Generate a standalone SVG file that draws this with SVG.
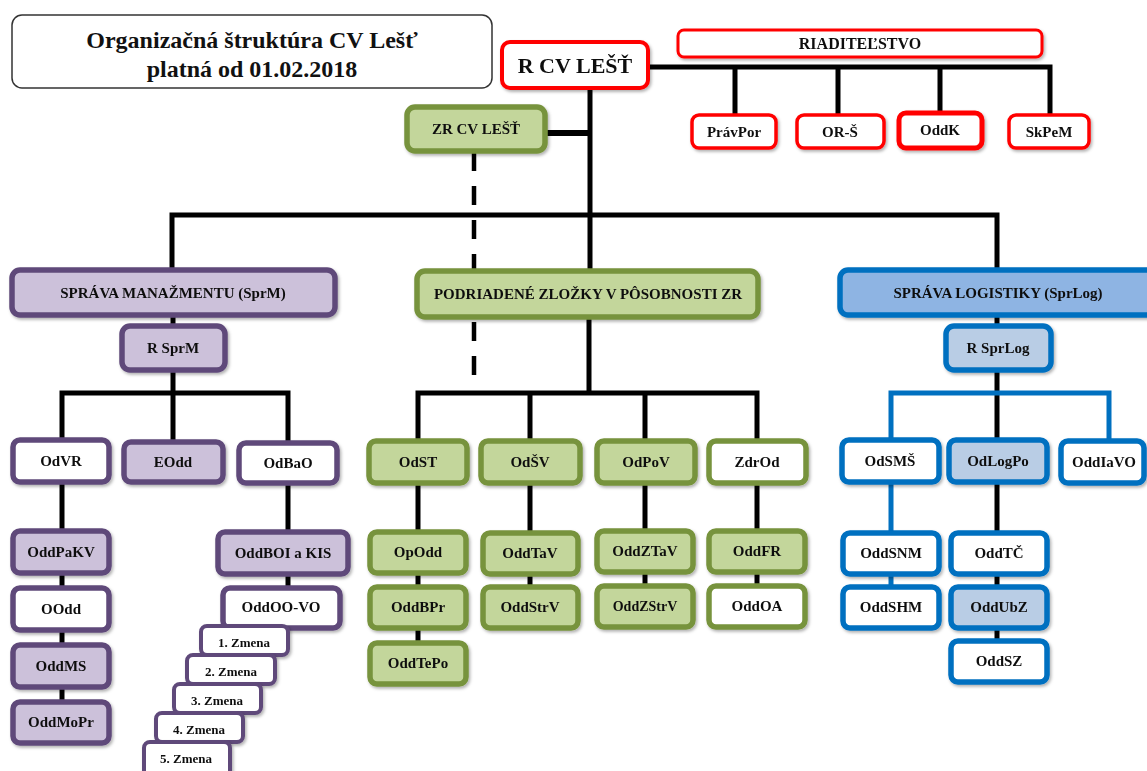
<svg xmlns="http://www.w3.org/2000/svg" width="1147" height="771" viewBox="0 0 1147 771">
<defs>
<filter id="sh" x="-10%" y="-20%" width="130%" height="150%">
<feDropShadow dx="1.5" dy="2" stdDeviation="1.5" flood-color="#000" flood-opacity="0.3"/>
</filter>
<style>
text{font-family:"Liberation Serif","Times New Roman",serif;font-weight:bold;fill:#111;text-anchor:middle}
.t15{font-size:15px}
.t14{font-size:14px}
.t13{font-size:13px}
.red rect{fill:#fff;stroke:#ff0000;stroke-width:3.5}
.grn rect{fill:#c3d69b;stroke:#77933c;stroke-width:5.5}
.grnw rect{fill:#fff;stroke:#77933c;stroke-width:5.5}
.pur rect{fill:#ccc1da;stroke:#5f497a;stroke-width:5.5}
.purw rect{fill:#fff;stroke:#5f497a;stroke-width:5.5}
.zm rect{fill:#fff;stroke:#5f497a;stroke-width:4}
.blu rect{fill:#8eb4e3;stroke:#0070c0;stroke-width:5.5}
.blul rect{fill:#b9cde5;stroke:#0070c0;stroke-width:5.5}
.bluw rect{fill:#fff;stroke:#0070c0;stroke-width:5.5}
.c{fill:none;stroke:#000;stroke-width:5}
.cb{fill:none;stroke:#0070c0;stroke-width:5}
.d{fill:none;stroke:#000;stroke-width:4.5;stroke-dasharray:19 15}
</style>
</defs>
<rect width="1147" height="771" fill="#fff"/>

<g id="connectors">
<path class="c" d="M648,67 H1050 V115 M735,67 V115 M838,67 V115 M940,67 V113"/>
<path class="c" d="M590,88 V215"/>
<path class="c" d="M545,133 H590" style="stroke-width:6"/>
<path class="c" d="M172,270 V215 H997 V270 M590,215 V272"/>
<path class="d" d="M474,152 V378"/>
<path class="c" d="M173,315 V442 M62,440 V393 H288 V443"/>
<path class="c" d="M62,482 V702 M288,483 V589"/>
<path class="c" d="M589,317 V393 M418,441 V393 H757 V441 M530,393 V441 M645,393 V441"/>
<path class="c" d="M418,483 V643 M530,483 V587 M645,483 V586 M757,483 V586"/>
<path class="c" d="M997,315 V641"/>
<path class="cb" d="M891,440 V393 H1109 V441 M891,482 V587"/>
</g>

<g id="title">
<rect x="12" y="15" width="480" height="73" rx="10" fill="#fff" stroke="#333" stroke-width="1.5"/>
<text x="252" y="48" style="font-size:24px">Organizačná štruktúra CV Lešť</text>
<text x="252" y="77" style="font-size:24px">platná od 01.02.2018</text>
</g>

<g id="rcv" class="red" filter="url(#sh)"><rect x="502" y="42" width="146" height="46" rx="8" style="stroke-width:4"/><text x="575" y="73" style="font-size:22px">R CV LEŠŤ</text></g>
<g id="riaditelstvo" class="red" filter="url(#sh)"><rect x="678" y="30" width="364" height="27" rx="6" style="stroke-width:3"/><text x="860" y="49" style="font-size:16px">RIADITEĽSTVO</text></g>
<g id="pravpor" class="red" filter="url(#sh)"><rect x="692" y="115" width="84" height="33" rx="7"/><text class="t15" x="734" y="137">PrávPor</text></g>
<g id="ors" class="red" filter="url(#sh)"><rect x="797" y="115" width="87" height="33" rx="7"/><text class="t15" x="840" y="137">OR-Š</text></g>
<g id="oddk" class="red" filter="url(#sh)"><rect x="899" y="113" width="83" height="35" rx="7" style="stroke-width:5"/><text class="t15" x="940" y="135">OddK</text></g>
<g id="skpem" class="red" filter="url(#sh)"><rect x="1009" y="115" width="80" height="33" rx="7"/><text class="t15" x="1049" y="137">SkPeM</text></g>

<g id="zr" class="grn" filter="url(#sh)"><rect x="407" y="107" width="138" height="44" rx="8"/><text class="t15" x="476" y="134">ZR CV LEŠŤ</text></g>

<g id="sprm" class="pur" filter="url(#sh)"><rect x="12" y="270" width="323" height="45" rx="8"/><text class="t15" x="173" y="298">SPRÁVA MANAŽMENTU (SprM)</text></g>
<g id="podr" class="grn" filter="url(#sh)"><rect x="417" y="271" width="341" height="46" rx="8"/><text class="t15" x="588" y="299">PODRIADENÉ ZLOŽKY V PÔSOBNOSTI ZR</text></g>
<g id="sprlog" class="blu" filter="url(#sh)"><rect x="840" y="270" width="320" height="45" rx="8"/><text class="t15" x="998" y="298">SPRÁVA LOGISTIKY (SprLog)</text></g>

<g id="rsprm" class="pur" filter="url(#sh)"><rect x="122" y="326" width="103" height="44" rx="8"/><text class="t15" x="173" y="353">R SprM</text></g>
<g id="rsprlog" class="blul" filter="url(#sh)"><rect x="946" y="326" width="105" height="44" rx="8"/><text class="t15" x="998" y="353">R SprLog</text></g>

<g id="odvr" class="purw" filter="url(#sh)"><rect x="13" y="440" width="96" height="42" rx="7"/><text class="t15" x="61" y="466">OdVR</text></g>
<g id="eodd" class="pur" filter="url(#sh)"><rect x="124" y="442" width="99" height="40" rx="7"/><text class="t15" x="173" y="467">EOdd</text></g>
<g id="odbao" class="purw" filter="url(#sh)"><rect x="239" y="443" width="98" height="40" rx="7"/><text class="t15" x="288" y="468">OdBaO</text></g>

<g id="oddpakv" class="pur" filter="url(#sh)"><rect x="13" y="531" width="96" height="42" rx="7"/><text class="t15" x="61" y="557">OddPaKV</text></g>
<g id="oodd" class="purw" filter="url(#sh)"><rect x="13" y="588" width="96" height="42" rx="7"/><text class="t15" x="61" y="614">OOdd</text></g>
<g id="oddms" class="pur" filter="url(#sh)"><rect x="13" y="645" width="96" height="42" rx="7"/><text class="t15" x="61" y="671">OddMS</text></g>
<g id="oddmopr" class="pur" filter="url(#sh)"><rect x="13" y="702" width="96" height="41" rx="7"/><text class="t15" x="61" y="727">OddMoPr</text></g>

<g id="oddboi" class="pur" filter="url(#sh)"><rect x="218" y="532" width="130" height="42" rx="7"/><text class="t15" x="283" y="558">OddBOI a KIS</text></g>
<g id="oddoovo" class="purw" filter="url(#sh)"><rect x="223" y="588" width="117" height="40" rx="7"/><text class="t15" x="281" y="612">OddOO-VO</text></g>
<g id="zmena1" class="zm" filter="url(#sh)"><rect x="201" y="626" width="87" height="29" rx="6"/><text class="t13" x="244" y="647">1. Zmena</text></g>
<g id="zmena2" class="zm" filter="url(#sh)"><rect x="187" y="655" width="88" height="29" rx="6"/><text class="t13" x="231" y="676">2. Zmena</text></g>
<g id="zmena3" class="zm" filter="url(#sh)"><rect x="174" y="684" width="87" height="29" rx="6"/><text class="t13" x="217" y="705">3. Zmena</text></g>
<g id="zmena4" class="zm" filter="url(#sh)"><rect x="156" y="713" width="87" height="29" rx="6"/><text class="t13" x="199" y="734">4. Zmena</text></g>
<g id="zmena5" class="zm" filter="url(#sh)"><rect x="144" y="742" width="86" height="36" rx="6"/><text class="t13" x="186" y="763">5. Zmena</text></g>

<g id="odst" class="grn" filter="url(#sh)"><rect x="369" y="441" width="98" height="42" rx="7"/><text class="t15" x="418" y="467">OdST</text></g>
<g id="odsv" class="grn" filter="url(#sh)"><rect x="481" y="441" width="99" height="42" rx="7"/><text class="t15" x="530" y="467">OdŠV</text></g>
<g id="odpov" class="grn" filter="url(#sh)"><rect x="597" y="441" width="98" height="42" rx="7"/><text class="t15" x="646" y="467">OdPoV</text></g>
<g id="zdrod" class="grnw" filter="url(#sh)"><rect x="709" y="441" width="97" height="42" rx="7"/><text class="t15" x="757" y="467">ZdrOd</text></g>

<g id="opodd" class="grn" filter="url(#sh)"><rect x="370" y="532" width="96" height="41" rx="7"/><text class="t15" x="418" y="557">OpOdd</text></g>
<g id="oddbpr" class="grn" filter="url(#sh)"><rect x="370" y="587" width="96" height="41" rx="7"/><text class="t15" x="418" y="612">OddBPr</text></g>
<g id="oddtepo" class="grn" filter="url(#sh)"><rect x="370" y="643" width="96" height="41" rx="7"/><text class="t15" x="418" y="668">OddTePo</text></g>
<g id="oddtav" class="grn" filter="url(#sh)"><rect x="483" y="533" width="95" height="41" rx="7"/><text class="t15" x="530" y="558">OddTaV</text></g>
<g id="oddstrv" class="grn" filter="url(#sh)"><rect x="483" y="587" width="95" height="41" rx="7"/><text class="t15" x="530" y="612">OddStrV</text></g>
<g id="oddztav" class="grn" filter="url(#sh)"><rect x="597" y="531" width="96" height="41" rx="7"/><text class="t15" x="645" y="556">OddZTaV</text></g>
<g id="oddzstrv" class="grn" filter="url(#sh)"><rect x="597" y="586" width="96" height="41" rx="7"/><text class="t14" x="645" y="611">OddZStrV</text></g>
<g id="oddfr" class="grn" filter="url(#sh)"><rect x="709" y="531" width="96" height="41" rx="7"/><text class="t15" x="757" y="556">OddFR</text></g>
<g id="oddoa" class="grnw" filter="url(#sh)"><rect x="709" y="586" width="96" height="41" rx="7"/><text class="t15" x="757" y="611">OddOA</text></g>

<g id="odsms" class="bluw" filter="url(#sh)"><rect x="842" y="440" width="97" height="42" rx="7"/><text class="t15" x="890" y="466">OdSMŠ</text></g>
<g id="odlogpo" class="blul" filter="url(#sh)"><rect x="949" y="440" width="98" height="42" rx="7"/><text class="t15" x="998" y="466">OdLogPo</text></g>
<g id="oddiavo" class="bluw" filter="url(#sh)"><rect x="1061" y="441" width="83" height="42" rx="7"/><text class="t15" x="1104" y="467">OddIaVO</text></g>

<g id="oddsnm" class="bluw" filter="url(#sh)"><rect x="843" y="533" width="96" height="41" rx="7"/><text class="t15" x="891" y="558">OddSNM</text></g>
<g id="oddshm" class="bluw" filter="url(#sh)"><rect x="843" y="587" width="96" height="41" rx="7"/><text class="t15" x="891" y="612">OddSHM</text></g>
<g id="oddtc" class="bluw" filter="url(#sh)"><rect x="951" y="533" width="96" height="41" rx="7"/><text class="t15" x="999" y="558">OddTČ</text></g>
<g id="oddubz" class="blul" filter="url(#sh)"><rect x="951" y="587" width="96" height="41" rx="7"/><text class="t15" x="999" y="612">OddUbZ</text></g>
<g id="oddsz" class="bluw" filter="url(#sh)"><rect x="951" y="641" width="96" height="41" rx="7"/><text class="t15" x="999" y="666">OddSZ</text></g>
</svg>
